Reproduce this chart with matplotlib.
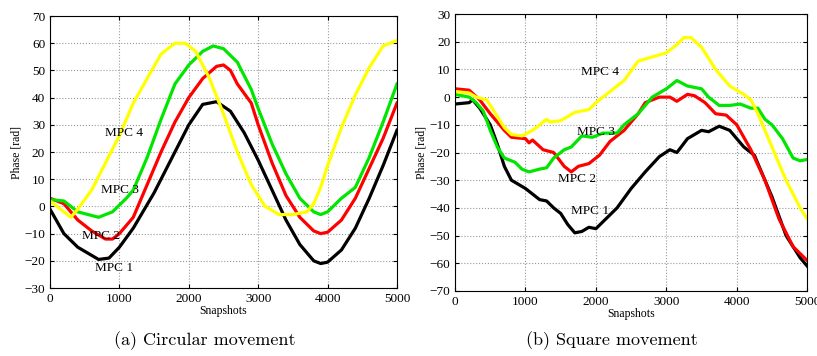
import numpy as np
import matplotlib.pyplot as plt

# (a) circular movement
xa1 = [0, 200, 400, 600, 700, 850, 1000, 1200, 1500, 1800, 2000, 2200, 2400, 2600, 2800, 3000, 3200, 3400, 3600, 3800, 3900, 4000, 4200, 4400, 4600, 4800, 5000]
ya1 = [-1, -10, -15, -18, -19.5, -19, -15, -8, 5, 20, 30, 37.5, 38.5, 35, 27, 17, 6, -5, -14, -20, -21, -20.5, -16, -8, 3, 15, 28]
xa2 = [0, 200, 400, 600, 800, 900, 1000, 1200, 1400, 1600, 1800, 2000, 2200, 2400, 2500, 2600, 2700, 2900, 3000, 3200, 3400, 3600, 3800, 3900, 4000, 4200, 4400, 4600, 4800, 5000]
ya2 = [3, 1, -5, -9, -12, -12, -10, -4, 8, 20, 31, 40, 47, 51.5, 52, 50, 45, 38, 30, 16, 4, -4, -9, -10, -9.5, -5, 3, 14, 25, 38]
xa3 = [0, 200, 300, 400, 700, 900, 1100, 1200, 1400, 1600, 1800, 2000, 2200, 2350, 2500, 2700, 2900, 3000, 3200, 3400, 3600, 3800, 3900, 4000, 4200, 4400, 4600, 4800, 5000]
ya3 = [2.5, 2, 0, -2, -4, -2, 3, 6, 18, 32, 45, 52, 57, 59, 58, 53, 43, 36, 23, 12, 3, -2, -3, -2, 3, 7, 18, 31, 45]
xa4 = [0, 300, 400, 600, 800, 1000, 1200, 1400, 1600, 1800, 1950, 2100, 2300, 2500, 2700, 2900, 3100, 3300, 3500, 3700, 3800, 3900, 4000, 4200, 4400, 4600, 4800, 5000]
ya4 = [2, -4, -1, 6, 16, 26, 38, 47, 56, 60, 60, 57, 47, 34, 20, 8, 0, -3, -3, -2, 1, 7, 15, 29, 41, 51, 59, 61]

# (b) square movement
xb1 = [0, 200, 250, 350, 500, 600, 700, 800, 1000, 1200, 1300, 1400, 1500, 1600, 1700, 1800, 1900, 2000, 2100, 2300, 2500, 2700, 2900, 3050, 3150, 3300, 3500, 3600, 3750, 3900, 4100, 4250, 4500, 4700, 4900, 5000]
yb1 = [-2.5, -2, -1, -4, -10, -17, -25, -30, -33, -37, -37.5, -40, -42, -46, -49, -48.5, -47, -47.5, -45, -40, -33, -27, -21.5, -19, -20, -15, -12, -12.5, -10.5, -12, -18, -21, -36, -50, -58, -61]
xb2 = [0, 200, 350, 500, 700, 800, 1000, 1050, 1100, 1250, 1400, 1550, 1650, 1750, 1900, 2050, 2200, 2400, 2600, 2700, 2900, 3050, 3150, 3300, 3400, 3550, 3700, 3850, 4000, 4200, 4400, 4600, 4800, 5000]
yb2 = [3, 2.5, -1, -6, -12, -14.5, -15, -16.5, -15.5, -19, -20, -25, -27, -25, -24, -21, -16, -12, -6, -2, 0, 0, -1.5, 1, 0.5, -2, -6, -6.5, -10, -19, -30, -44, -54, -59]
xb3 = [0, 200, 300, 400, 500, 600, 700, 850, 950, 1050, 1200, 1300, 1400, 1550, 1650, 1800, 1950, 2100, 2300, 2400, 2600, 2800, 3000, 3150, 3300, 3500, 3600, 3750, 3900, 4050, 4200, 4300, 4400, 4500, 4650, 4800, 4900, 5000]
yb3 = [1, 0, -2, -5, -12, -18, -22, -23.5, -26, -27, -26, -25.5, -22, -19, -18, -14, -14.5, -13, -13, -10, -6, 0, 3, 6, 4, 3, 0, -3, -3, -2.5, -4, -4, -8, -10, -15, -22, -23, -22.5]
xb4 = [0, 200, 300, 450, 550, 700, 800, 950, 1100, 1200, 1300, 1350, 1500, 1700, 1900, 2000, 2200, 2400, 2600, 2800, 3000, 3150, 3250, 3350, 3500, 3700, 3900, 4100, 4200, 4300, 4500, 4700, 4900, 5000]
yb4 = [2, 1.5, 0, -1, -5, -11, -13.5, -14, -12, -10, -8, -9, -8.5, -5.5, -4.5, -2, 2, 6, 13, 14.5, 16, 19, 21.5, 21.5, 18, 10, 4, 1, -1, -6, -18, -30, -40, -44]

colors = ['black', '#ff0000', '#00e600', '#ffff00']
labels = ['MPC 1', 'MPC 2', 'MPC 3', 'MPC 4']
lab_a = [(650, -22.5), (466, -11), (730, 6), (793, 27)]
lab_b = [(1646, -41), (1457, -29.5), (1727, -12.5), (1788, 9)]

fig = plt.figure(figsize=(8.17, 3.56), dpi=100)
ax1 = fig.add_axes([0.0612, 0.191, 0.4247, 0.764])
ax2 = fig.add_axes([0.557, 0.1826, 0.431, 0.778])

series = [
    (ax1, [(xa1, ya1), (xa2, ya2), (xa3, ya3), (xa4, ya4)], lab_a, (-30, 70), '(a) Circular movement', 0.251),
    (ax2, [(xb1, yb1), (xb2, yb2), (xb3, yb3), (xb4, yb4)], lab_b, (-70, 30), '(b) Square movement', 0.749),
]

for ax, data, labpos, ylim, cap, cx in series:
    for (x, y), c in zip(data, colors):
        ax.plot(x, y, color=c, lw=2.3)
    for (tx, ty), t in zip(labpos, labels):
        ax.text(tx, ty, t, family='Liberation Serif', fontsize=9.5, va='center', ha='left')
    ax.set_xlim(0, 5000)
    ax.set_ylim(*ylim)
    ax.set_yticks(np.arange(ylim[0], ylim[1] + 1, 10))
    ax.set_xticks(np.arange(0, 5001, 1000))
    ax.grid(True, ls=':', color='#999999', lw=0.8)
    ax.tick_params(direction='in', top=True, right=True, labelsize=9.5, length=3)
    for lbl in ax.get_xticklabels() + ax.get_yticklabels():
        lbl.set_family('Liberation Serif')
    ax.set_xlabel('Snapshots', family='Liberation Serif', fontsize=8.5, labelpad=0)
    ax.set_ylabel('Phase [rad]', family='Liberation Serif', fontsize=8.5, labelpad=1)
    fig.text(cx, 0.042, cap, ha='center', va='center', family='cmr10', fontsize=13)

plt.savefig('out.png', dpi=100)
